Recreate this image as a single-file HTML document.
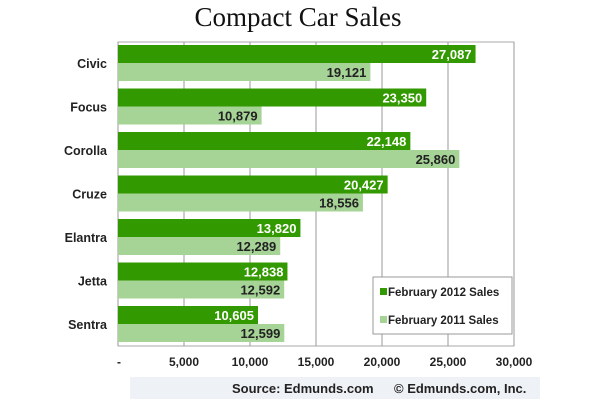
<!DOCTYPE html>
<html><head><meta charset="utf-8"><style>
body{margin:0;width:600px;height:400px;background:#fff;overflow:hidden;font-family:"Liberation Sans",sans-serif}
</style></head><body>
<svg width="600" height="400" xmlns="http://www.w3.org/2000/svg">
<text x="298" y="26" text-anchor="middle" font-family="Liberation Serif" font-size="27" fill="#111">Compact Car Sales</text>
<g id="grid"></g>
<g id="bars"></g>
<g id="labels"></g>
<rect x="130" y="377" width="410" height="22" fill="#eef1f5"/>
<text x="232" y="393" font-size="13" font-weight="bold" fill="#222">Source: Edmunds.com</text>
<text x="394" y="393" font-size="13" font-weight="bold" fill="#222">© Edmunds.com, Inc.</text>
<g>
<rect x="373" y="277" width="139" height="57" fill="#fff" stroke="#999"/>
<rect x="380" y="288" width="7" height="7" fill="#339900"/>
<text x="388" y="296" font-size="11.5" font-weight="bold" fill="#222">February 2012 Sales</text>
<rect x="380" y="316" width="7" height="7" fill="#a6d396"/>
<text x="388" y="324" font-size="11.5" font-weight="bold" fill="#222">February 2011 Sales</text>
</g>
</svg>
<script>
const categories=["Civic","Focus","Corolla","Cruze","Elantra","Jetta","Sentra"];
const sales2012=[27087,23350,22148,20427,13820,12838,10605];
const sales2011=[19121,10879,25860,18556,12289,12592,12599];
const ticks=[0,5000,10000,15000,20000,25000,30000];
const tickLabels=["-","5,000","10,000","15,000","20,000","25,000","30,000"];
const NS="http://www.w3.org/2000/svg";
const x0=118,x1=514,yTop=42,yBot=346,xMax=30000;
const sx=v=>x0+v/xMax*(x1-x0);
const rowY=i=>45+i*43.5;
function mk(tag,attrs,parent){const e=document.createElementNS(NS,tag);for(const k in attrs)e.setAttribute(k,attrs[k]);document.getElementById(parent).appendChild(e);return e;}
const fmt=v=>v.toLocaleString("en-US");
mk("rect",{x:x0,y:yTop,width:x1-x0,height:yBot-yTop,fill:"none",stroke:"#aaa"},"grid");
ticks.forEach((t,i)=>{
 const l=mk("line",{x1:sx(t),x2:sx(t),y1:yTop,y2:yBot,stroke:"#999","stroke-width":1},"grid");
 
 
 const tx=mk("text",{x:i==0?sx(t)+1:sx(t),y:366,"text-anchor":"middle","font-size":"12","font-weight":"bold",fill:"#222"},"labels");
 tx.textContent=tickLabels[i];
 
 
});
categories.forEach((c,i)=>{
 const y=rowY(i);
 const b1=mk("rect",{x:x0,y:y,width:sx(sales2012[i])-x0,height:18,fill:"#339900"},"bars");
 
 
 const b2=mk("rect",{x:x0,y:y+18,width:sx(sales2011[i])-x0,height:18,fill:"#a6d396"},"bars");
 
 
 const v1=mk("text",{x:sx(sales2012[i])-4,y:y+14,"text-anchor":"end","font-size":"13","font-weight":"bold",fill:"#fff"},"labels");
 v1.textContent=fmt(sales2012[i]);
 
 
 const v2=mk("text",{x:sx(sales2011[i])-4,y:y+32,"text-anchor":"end","font-size":"13","font-weight":"bold",fill:"#222"},"labels");
 v2.textContent=fmt(sales2011[i]);
 
 
 const cl=mk("text",{x:107,y:y+23,"text-anchor":"end","font-size":"12.5","font-weight":"bold",fill:"#222"},"labels");
 cl.textContent=c;
 
 
});
</script>
</body></html>
